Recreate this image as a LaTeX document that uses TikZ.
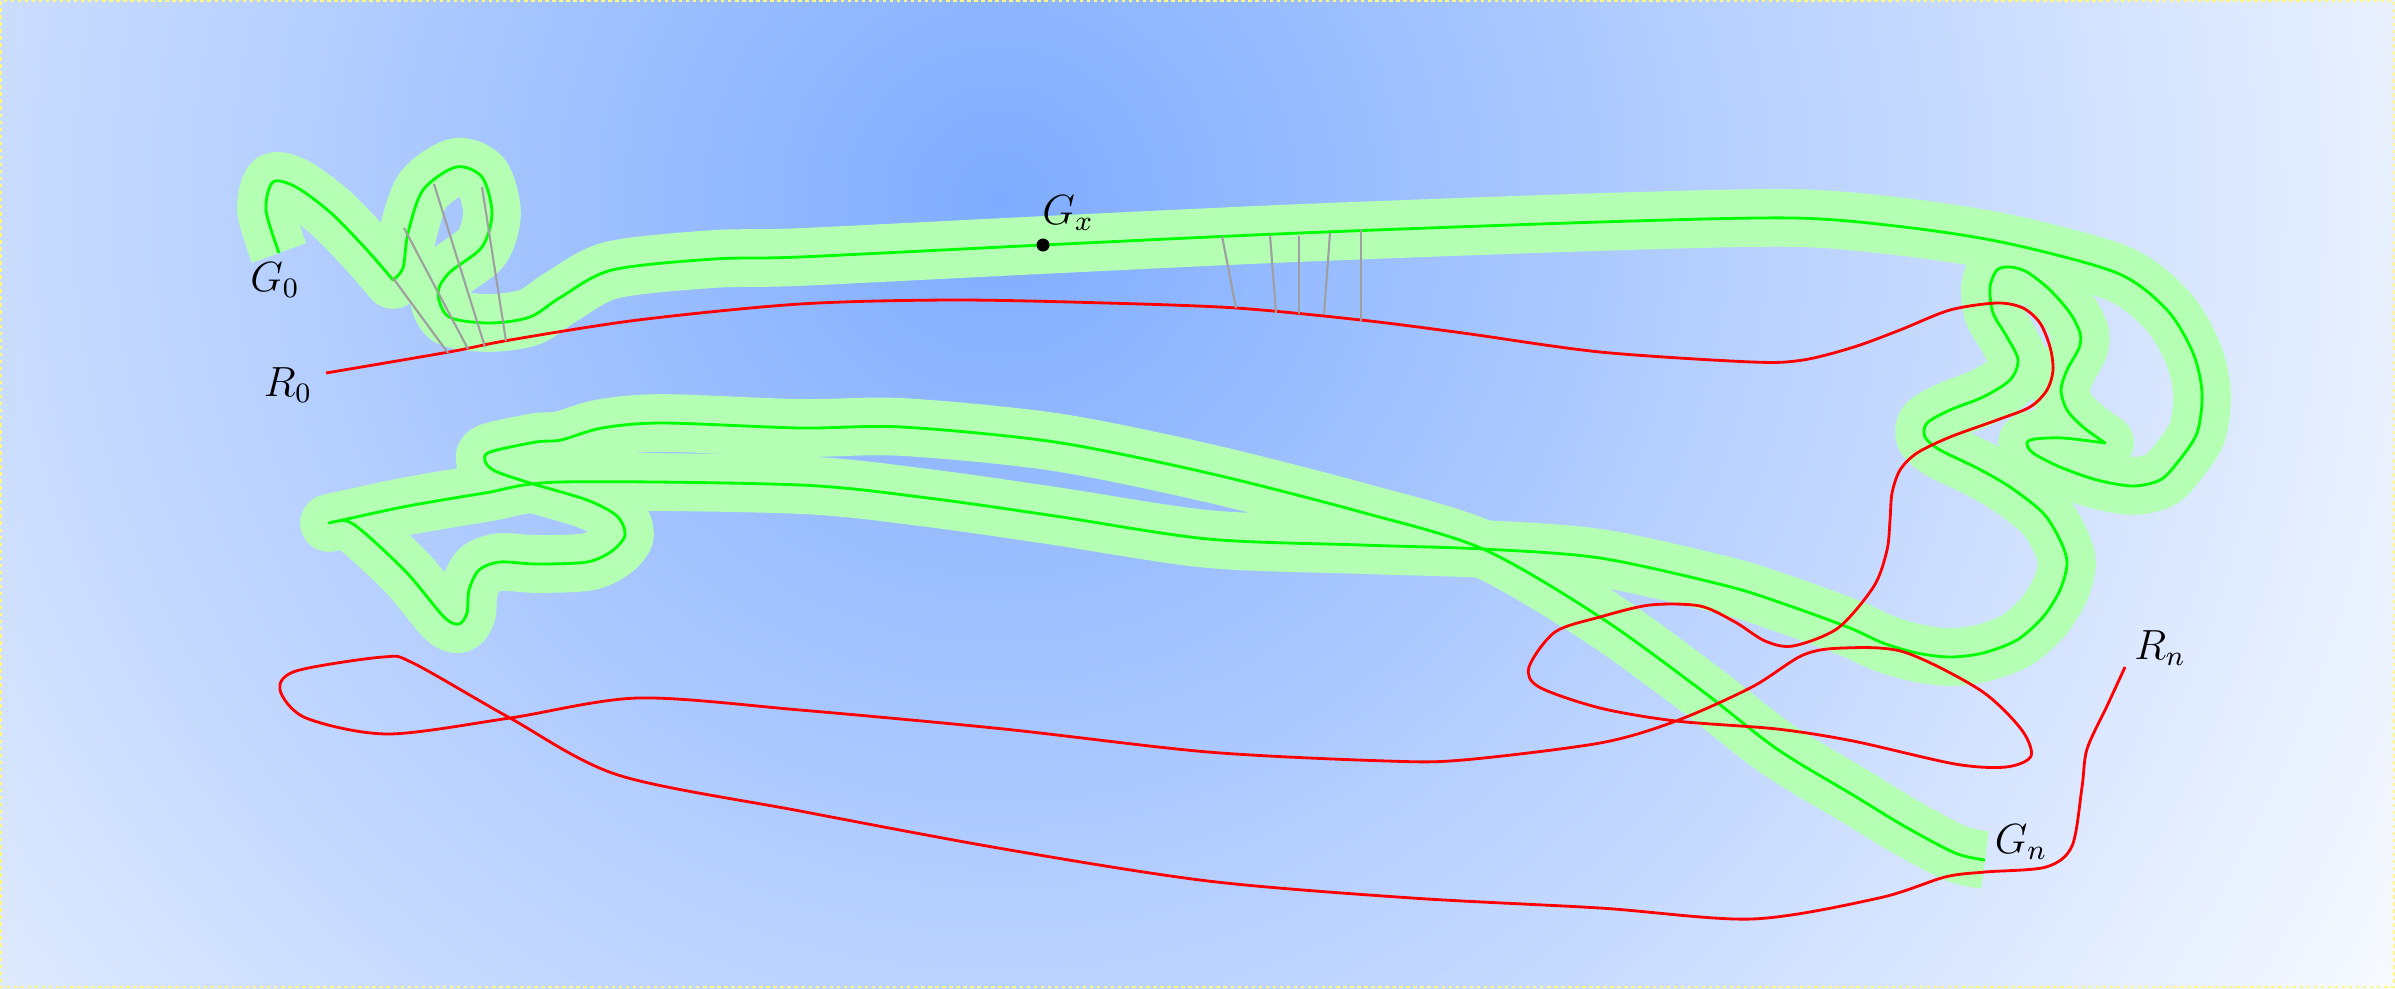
\documentclass[tikz,border=0pt]{standalone}
\definecolor{halo}{RGB}{180,255,180}
\definecolor{bgin}{RGB}{127,172,255}
\begin{document}
\begin{tikzpicture}[x=0.01cm,y=-0.01cm,
  gline/.style={green,thick,line join=round,
    preaction={draw=halo,line width=16.4pt,line join=round}},
  rline/.style={red,thick,line join=round},
  link/.style={gray!75,semithick},
  lbl/.style={font=\large},
  dot/.style={circle,fill=black,inner sep=0pt,minimum size=0.13cm}]
\useasboundingbox (0,0) rectangle (2395,988);
% 背景
\begin{scope}
\clip (0,0) rectangle (2395,988);
\shade[inner color=bgin,outer color=white] (1000,200) circle (1700);
\end{scope}
\draw[yellow!50,dash pattern=on 1pt off 1pt,line width=0.4pt] (1,1) rectangle (2394,987);
% 绿色曲线 G
\draw[gline] plot[smooth] coordinates {(279,253) (266,210) (273,182) (296,187) (331,213) (367,250) (393,280)}
  -- plot[smooth] coordinates {(393,280) (403,268) (408,233) (423,190) (456,167) (482,177) (492,213)
    (482,247) (449,273) (438,293) (449,317) (490,323) (530,317) (561,297) (612,270) (714,259) (800,257)
    (1043,245) (1300,233) (1600,222) (1793,218) (1904,227) (2006,243) (2117,273) (2167,310) (2193,353)
    (2202,393) (2197,433) (2177,463) (2160,480) (2133,486) (2097,480) (2060,467) (2033,453) (2027,443)
    (2035,439) (2063,438) (2105,443)}
  -- plot[smooth] coordinates {(2105,443) (2083,427) (2067,410) (2061,390) (2067,370) (2079,348)
    (2080,333) (2070,313) (2050,290) (2027,272) (2010,267) (1997,270) (1990,287) (1993,313) (2007,337)
    (2018,360) (2010,380) (1983,397) (1950,410) (1927,423) (1925,437) (1940,450) (1977,468) (2010,487)
    (2043,513) (2060,540) (2067,563) (2060,590) (2043,617) (2017,640) (1983,653) (1950,657) (1917,653)
    (1883,643) (1850,628) (1790,606) (1727,586) (1600,558) (1483,549) (1361,545) (1208,539) (1055,516)
    (928,498) (800,485) (561,482) (485,493) (408,506) (347,519) (329,523)}
  -- plot[smooth] coordinates {(329,523) (347,521) (367,535) (408,574) (444,617) (459,624) (467,613)
    (469,590) (479,570) (500,562) (536,564) (587,562) (612,551) (625,535) (617,516) (587,500) (530,483)
    (495,471) (485,461) (490,452) (536,442) (561,440) (602,428) (663,423) (800,428) (902,427) (1055,442)
    (1208,473) (1361,512) (1483,549) (1600,617) (1701,690) (1777,749) (1853,795) (1904,826) (1955,853)
    (1985,860)};
% 红色曲线 R
\draw[rline] plot[smooth] coordinates {(326,373) (449,352) (510,340) (638,320) (800,304) (953,300)
  (1106,303) (1236,308) (1361,320) (1463,333) (1600,352) (1752,362) (1803,360) (1854,347) (1900,330)
  (1950,310) (1997,303) (2023,308) (2040,323) (2050,347) (2053,370) (2047,390) (2030,407) (1997,420)
  (1950,437) (1917,453) (1900,470) (1892,493) (1890,520) (1887,550) (1874,586) (1838,628) (1793,646)
  (1765,641) (1735,622) (1700,606) (1650,605) (1600,617) (1555,632) (1529,667) (1539,687) (1600,708)
  (1676,721) (1777,729) (1853,741) (1955,764) (2006,767) (2031,756) (2021,729) (1980,690) (1904,652)
  (1843,648) (1803,655) (1752,687) (1676,721) (1600,743) (1463,760) (1387,761) (1208,752) (1004,729)
  (800,710) (638,698) (510,718) (388,734) (306,718) (280,690) (296,671) (383,657) (413,663) (510,718)
  (618,775) (800,811) (1004,849) (1208,881) (1412,898) (1600,908) (1752,919) (1879,898)
  (1945,877) (1985,872) (2046,867) (2072,846) (2082,787) (2087,749) (2107,706) (2125,667)};
% 连线
\draw[link] (393,278) -- (448,353);
\draw[link] (404,228) -- (468,349);
\draw[link] (434,184) -- (485,347);
\draw[link] (482,187) -- (506,341);
\draw[link] (1222,236) -- (1236,308);
\draw[link] (1270,235) -- (1276,313);
\draw[link] (1299,236) -- (1299,314);
\draw[link] (1330,233) -- (1324,314);
\draw[link] (1361,229) -- (1361,321);
% 标记
\node[dot] (x) at (1043,245) {};
\node[lbl] (G0) at (275,280) {$G_0$};
\node[lbl] (R0) at (288,385) {$R_0$};
\node[lbl] (Gx) at (1068,213) {$G_x$};
\node[lbl] (Gn) at (2021,842) {$G_n$};
\node[lbl] (Rn) at (2160,648) {$R_n$};
\end{tikzpicture}
\end{document}
